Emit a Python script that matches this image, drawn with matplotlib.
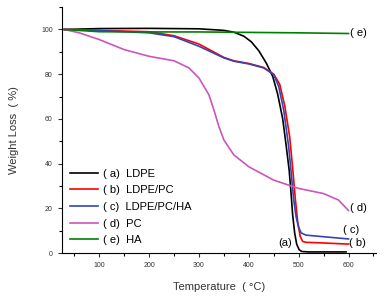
import numpy as np
import matplotlib.pyplot as plt
from matplotlib.ticker import MultipleLocator

plt.rcParams['font.family'] = ['Liberation Sans', 'DejaVu Sans']

# temperaturas (C) y perdida de peso (%)
t_a = [30, 100, 200, 300, 350, 370, 390, 405, 420, 435, 448, 458, 468, 475, 481, 485, 488, 492, 496, 501, 506, 520, 560, 595]
w_a = [100, 100.4, 100.5, 100.3, 99.6, 98.8, 97, 94.5, 90.5, 85, 79, 71, 60, 48, 37, 26, 17, 9, 4, 1.5, 0.7, 0.5, 0.5, 0.5]

t_b = [30, 100, 200, 250, 300, 350, 370, 400, 430, 450, 462, 472, 482, 488, 493, 498, 503, 508, 515, 550, 600]
w_b = [100, 99.6, 99, 97.2, 93.5, 87.5, 86, 84.8, 83, 80, 75.5, 66, 52, 38, 25, 14, 7.5, 5.2, 4.8, 4.5, 4.0]

t_c = [30, 100, 200, 250, 300, 350, 370, 400, 430, 450, 460, 470, 480, 485, 490, 495, 500, 505, 515, 550, 600]
w_c = [100, 99.5, 98.5, 96.8, 92.5, 87.3, 85.8, 84.6, 82.8, 79.8, 74.5, 64, 47.6, 36, 24, 16, 11.5, 9, 8, 7.3, 6.3]

t_d = [30, 60, 100, 150, 200, 250, 280, 300, 320, 330, 340, 350, 370, 400, 450, 500, 550, 580, 600]
w_d = [100, 98.5, 95.5, 91, 88, 86, 82.8, 78.3, 70.8, 64, 56.6, 50.6, 43.9, 38.6, 32.6, 28.9, 26.6, 23.7, 19]

t_e = [30, 100, 200, 300, 400, 500, 600]
w_e = [100, 99, 98.9, 98.9, 98.7, 98.5, 98.2]

etiquetas = ['( a)  LDPE', '( b)  LDPE/PC', '( c)  LDPE/PC/HA', '( d)  PC', '( e)  HA']
colores = ['black', 'red', '#3344bb', '#cc55bb', 'green']

fig = plt.figure(figsize=(3.84, 2.97), dpi=100)
ax = fig.add_axes([0.161, 0.148, 0.818, 0.828])

series = [(t_a, w_a), (t_b, w_b), (t_c, w_c), (t_d, w_d), (t_e, w_e)]
for (t, w), lab, col in zip(series, etiquetas, colores):
    ax.plot(t, w, color=col, lw=1.2, label=lab)

ax.set_xlim(25, 655)
ax.set_ylim(0, 110)
ax.xaxis.set_minor_locator(MultipleLocator(50))
ax.yaxis.set_minor_locator(MultipleLocator(10))
ax.set_xticks([100, 200, 300, 400, 500, 600])
ax.set_yticks([0, 20, 40, 60, 80, 100])
ax.tick_params(labelsize=5, length=3, width=0.8, colors='#333333')
ax.tick_params(which='minor', length=2, width=0.8)
for s in ['top', 'right']:
    ax.spines[s].set_visible(False)

ax.set_xlabel('Temperature  ( °C)', fontsize=8, color='#333333', labelpad=9)
ax.set_ylabel('Weight Loss  ( %)', fontsize=8, color='#333333', labelpad=16)

ax.legend(loc='lower left', bbox_to_anchor=(0.0, 0.0), frameon=False, fontsize=8,
          handlelength=2.6, labelspacing=0.6, borderaxespad=0.3, handletextpad=0.45)

ax.text(603, 98.3, '( e)', fontsize=8, va='center')
ax.text(603, 20, '( d)', fontsize=8, va='center')
ax.text(588, 10.5, '( c)', fontsize=8, va='center')
ax.text(600, 4.3, '( b)', fontsize=8, va='center')
ax.text(459, 4.5, '(a)', fontsize=8, va='center')

fig.savefig('out.png', dpi=100)
